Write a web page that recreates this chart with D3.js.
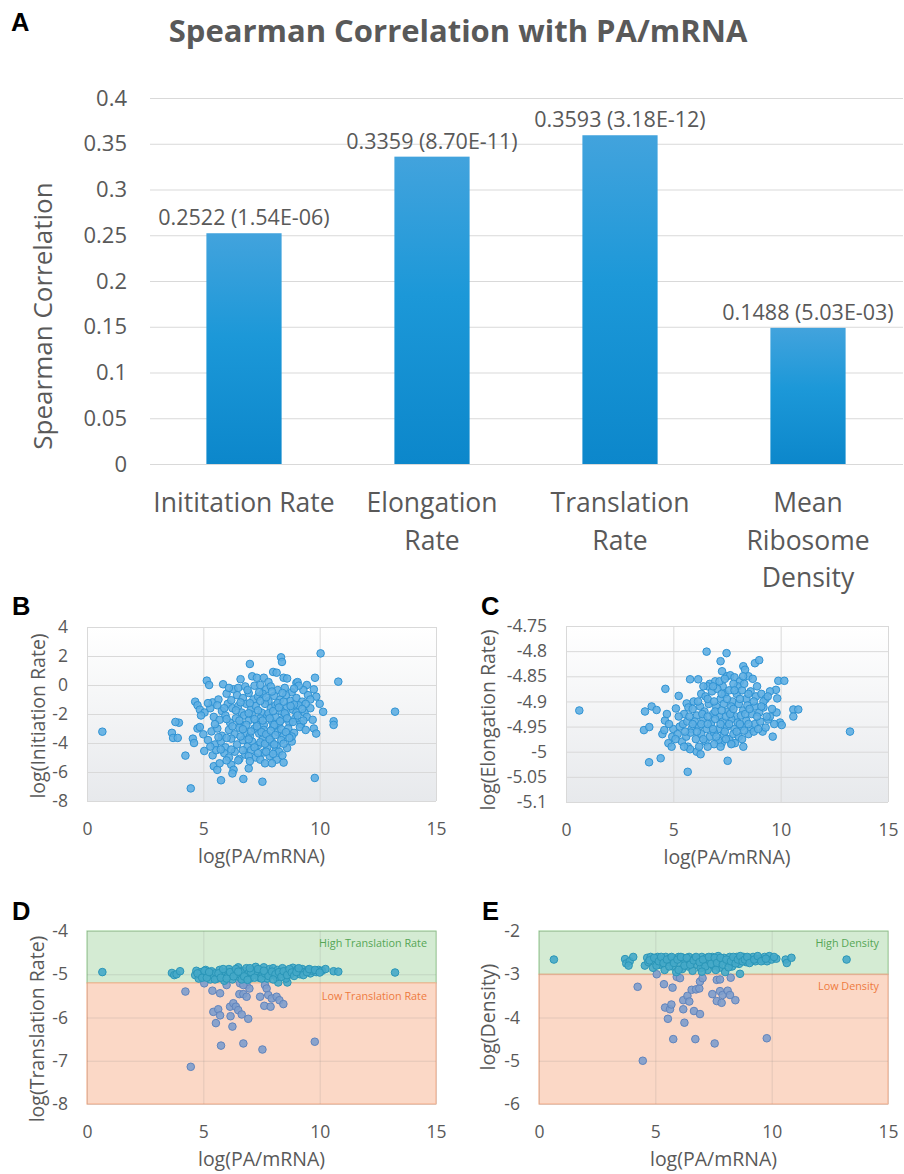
<!DOCTYPE html>
<html>
<head>
<meta charset="utf-8">
<script src="https://cdn.jsdelivr.net/npm/d3@7"></script>
<style>
body { margin: 0; background: #fff; }
text { font-family: "Open Sans", sans-serif; fill: #595959; }
.letter { font-family: "Liberation Sans", Arial, sans-serif; font-weight: bold; fill: #000; font-size: 25.5px; }
</style>
</head>
<body>
<svg id="fig" width="904" height="1174"></svg>
<script>
// ---- panel A data
var categories = [["Inititation Rate"], ["Elongation", "Rate"], ["Translation", "Rate"], ["Mean", "Ribosome", "Density"]];
var correlations = [0.2522, 0.3359, 0.3593, 0.1488];
var pValues = ["1.54E-06", "8.70E-11", "3.18E-12", "5.03E-03"];
var barTicks = [0, 0.05, 0.1, 0.15, 0.2, 0.25, 0.3, 0.35, 0.4];

// ---- shared x ticks of the scatter panels
var xTicks = [0, 5, 10, 15];

// ---- panel B: log(PA/mRNA) vs log(Initiation Rate)
var initiationTicks = [-8, -6, -4, -2, 0, 2, 4];
var initiationPoints = [
  [0.66,-3.22],[13.24,-1.84],[10.04,2.18],[10.8,0.23],[4.46,-7.13],[9.79,-6.41],[5.76,-6.57],[6.72,-6.48],[7.54,-6.67],
  [7.0,1.45],[8.34,1.91],[8.38,1.59],[4.23,-4.87],[5.04,-4.55],
  [6.6,0.4],[7.1,0.6],[7.3,0.5],[7.6,0.5],[7.8,0.2],[8.0,0.9],[8.15,0.85],[8.45,0.5],[8.6,0.45],[9.0,0.15],[9.05,0.2],[9.45,0.0],[9.8,0.5],
  [5.15,0.3],[5.25,0.0],[5.85,0.05],[6.3,-0.3],[6.5,-0.2],[6.8,-0.1],[7.2,-0.05],[7.45,0.0],[7.7,-0.3],[7.9,-0.1],[8.2,-0.35],[8.5,-0.2],
  [8.8,-0.5],[9.3,-0.35],[9.75,-0.3],[9.85,-0.8],[9.1,-0.05],
  [6.0,-0.6],[6.45,-0.7],[6.7,-0.9],[6.95,-0.55],[7.15,-1.0],[7.35,-0.8],[7.55,-0.6],[7.8,-1.1],[8.05,-0.75],[8.3,-1.0],[8.55,-0.7],
  [8.75,-1.1],[9.0,-0.9],[9.25,-1.15],[9.5,-0.7],[10.0,-1.3],[5.4,-1.2],[5.65,-1.0],
  [4.65,-1.15],[4.75,-1.4],[4.85,-1.7],[5.05,-1.9],[5.3,-1.6],[5.6,-1.4],[5.8,-1.8],[6.05,-1.3],[6.25,-1.6],[6.5,-1.45],[6.65,-1.9],
  [6.85,-1.3],[7.05,-1.7],[7.25,-1.45],[7.5,-1.9],[7.65,-1.3],[7.9,-1.6],[8.1,-1.4],[8.35,-1.8],[8.6,-1.5],[8.85,-1.7],[9.1,-1.4],
  [9.35,-1.9],[9.6,-1.6],[10.15,-1.85],[5.2,-1.25],
  [4.9,-2.1],[5.45,-2.2],[5.7,-2.4],[5.95,-2.1],[6.15,-2.6],[6.4,-2.3],[6.6,-2.7],[6.75,-2.1],[6.95,-2.45],[7.1,-2.05],[7.3,-2.6],
  [7.45,-2.3],[7.6,-2.75],[7.75,-2.1],[7.95,-2.5],[8.1,-2.2],[8.25,-2.7],[8.4,-2.35],[8.55,-2.05],[8.7,-2.6],[8.95,-2.3],[9.2,-2.7],
  [9.45,-2.2],[9.7,-2.4],[10.6,-2.5],[10.6,-2.75],[3.95,-2.6],[3.8,-2.55],
  [3.65,-3.3],[3.7,-3.65],[3.9,-3.65],[4.75,-3.0],[4.85,-2.9],[5.0,-3.4],[5.35,-3.2],[5.6,-3.0],[5.8,-3.5],[6.1,-3.1],[6.35,-3.4],
  [6.55,-2.95],[6.8,-3.3],[7.0,-3.55],[7.2,-3.0],[7.4,-3.35],[7.6,-3.1],[7.8,-3.5],[8.0,-2.9],[8.2,-3.25],[8.45,-3.5],[8.65,-3.0],
  [8.9,-3.3],[9.15,-2.9],[9.75,-3.0],[9.85,-3.35],
  [4.55,-3.7],[4.6,-4.0],[5.2,-3.8],[5.5,-4.1],[5.75,-3.9],[5.95,-4.3],[6.2,-3.7],[6.45,-4.1],[6.7,-3.8],[6.9,-4.25],[7.1,-3.9],
  [7.35,-4.15],[7.55,-3.75],[7.75,-4.3],[7.95,-3.95],[8.15,-4.2],[8.35,-3.8],[8.6,-4.35],[8.8,-3.9],
  [5.4,-4.85],[5.55,-4.5],[5.9,-4.7],[6.1,-5.0],[6.35,-4.6],[6.55,-5.1],[6.8,-4.8],[7.05,-4.5],[7.25,-5.0],[7.45,-5.15],[7.6,-4.65],
  [7.85,-4.9],[8.1,-4.55],[8.25,-4.6],[8.15,-5.15],
  [5.45,-5.6],[5.6,-5.85],[5.7,-5.4],[6.2,-5.5],[6.3,-5.85],[6.25,-6.1],[6.5,-5.2],[6.95,-5.75],[7.65,-5.4],[7.95,-5.4],[8.45,-5.35],
  [6.1,-0.2],[6.9,-0.35],[7.4,-0.5],[7.95,-0.45],[8.4,-0.55],[8.9,-0.25],[9.6,-1.0],
  [6.2,-1.05],[6.6,-1.2],[7.0,-1.25],[7.45,-1.1],[7.7,-0.85],[8.2,-1.25],[8.45,-1.15],[8.9,-1.35],[9.4,-1.3],
  [5.9,-1.6],[6.4,-1.75],[6.95,-1.95],[7.35,-1.75],[7.8,-1.95],[8.0,-1.8],[8.25,-1.55],[8.5,-1.95],[8.75,-1.45],[9.0,-1.9],[9.25,-1.65],
  [6.0,-2.35],[6.55,-2.45],[6.85,-2.75],[7.2,-2.35],[7.55,-2.45],[7.85,-2.3],[8.05,-2.75],[8.3,-2.5],[8.6,-2.3],[8.85,-2.55],[9.05,-2.1],
  [9.3,-2.45],[5.5,-2.7],[6.25,-2.85],[6.7,-3.05],[7.05,-3.2],[7.3,-2.85],[7.5,-3.25],[7.7,-3.4],[7.9,-3.15],[8.1,-3.45],[8.35,-3.05],
  [8.55,-3.25],[8.8,-3.55],[9.4,-3.1],
  [5.65,-3.6],[6.0,-3.65],[6.6,-3.55],[6.95,-3.75],[7.2,-4.3],[7.45,-3.95],[7.65,-4.05],[7.85,-3.75],[8.05,-4.1],[8.45,-4.05],[8.7,-3.65],
  [5.75,-4.45],[6.2,-4.45],[6.7,-4.5],[6.95,-4.9],[7.35,-4.7],[7.7,-4.6],[8.0,-4.75],[8.4,-4.85],[5.3,-4.25],[6.0,-5.2],[7.0,-5.25]
];

// ---- panel C: log(PA/mRNA) vs log(Elongation Rate)
var elongationTicks = [-5.1, -5.05, -5, -4.95, -4.9, -4.85, -4.8, -4.75];
var elongationPoints = [
  [0.62,-4.918],[13.23,-4.96],[6.55,-4.801],[7.48,-4.804],[7.2,-4.82],[7.27,-4.84],[8.26,-4.83],[8.34,-4.837],[8.8,-4.824],[9.0,-4.818],
  [5.78,-4.856],[6.16,-4.856],[9.89,-4.859],[10.17,-4.859],[4.63,-4.875],[5.25,-4.889],[3.68,-4.92],[3.99,-4.91],[4.22,-4.917],
  [3.63,-4.957],[3.88,-4.951],[4.49,-4.965],[4.58,-4.957],[4.61,-4.938],[5.12,-4.914],[5.62,-4.904],[5.7,-4.912],[4.77,-4.983],
  [4.92,-4.99],[5.68,-4.99],[5.78,-4.995],[6.09,-5.0],[6.27,-5.005],[3.87,-5.021],[4.41,-5.013],[5.67,-5.04],[7.53,-5.018],
  [8.26,-4.99],[9.63,-4.97],[9.16,-4.96],[10.59,-4.916],[10.82,-4.916],[10.59,-4.93],[9.78,-4.877],[9.84,-4.894],[9.81,-4.922],
  [9.97,-4.942],[10.05,-4.947],[9.42,-4.936],[9.5,-4.93],[7.25,-4.983],[7.72,-4.983],[7.87,-4.983],
  [6.7,-4.865],[6.95,-4.86],[7.5,-4.85],[7.65,-4.848],[7.85,-4.852],[8.1,-4.86],[8.5,-4.85],[8.7,-4.855],[6.6,-4.87],[7.3,-4.87],[8.0,-4.87],
  [6.3,-4.885],[6.5,-4.89],[6.8,-4.88],[7.05,-4.875],[7.2,-4.895],[7.4,-4.885],[7.6,-4.878],[7.75,-4.9],[7.95,-4.885],[8.2,-4.878],
  [8.4,-4.895],[8.6,-4.88],[8.85,-4.89],[9.1,-4.885],[9.3,-4.895],[9.5,-4.88],[5.95,-4.9],
  [5.5,-4.925],[5.9,-4.915],[6.1,-4.928],[6.25,-4.91],[6.45,-4.92],[6.65,-4.905],[6.85,-4.925],[7.0,-4.91],[7.15,-4.93],[7.35,-4.905],
  [7.55,-4.92],[7.7,-4.91],[7.9,-4.93],[8.05,-4.905],[8.25,-4.918],[8.45,-4.908],[8.65,-4.925],[8.8,-4.91],[9.0,-4.922],[9.2,-4.912],
  [9.35,-4.93],[9.6,-4.915],
  [5.0,-4.955],[5.3,-4.95],[5.45,-4.945],[5.65,-4.94],[5.85,-4.955],[6.0,-4.94],[6.2,-4.95],[6.4,-4.935],[6.55,-4.955],[6.75,-4.945],
  [6.95,-4.935],[7.1,-4.955],[7.3,-4.94],[7.5,-4.95],[7.7,-4.935],[7.85,-4.955],[8.0,-4.942],[8.2,-4.95],[8.4,-4.938],[8.6,-4.955],
  [8.8,-4.945],[9.05,-4.94],[9.3,-4.952],[9.7,-4.945],
  [4.95,-4.97],[5.2,-4.965],[5.4,-4.98],[5.6,-4.97],[5.8,-4.962],[6.05,-4.975],[6.3,-4.965],[6.5,-4.98],[6.7,-4.97],[6.9,-4.962],
  [7.1,-4.978],[7.35,-4.965],[7.6,-4.975],[7.8,-4.965],[8.05,-4.97],[8.5,-4.965],[8.75,-4.96],[6.2,-4.99],[6.9,-4.985],
  [6.4,-4.87],[6.85,-4.87],[7.15,-4.86],[7.8,-4.865],[8.3,-4.865],[8.9,-4.87],[7.4,-4.855],[8.25,-4.85],
  [6.15,-4.9],[6.6,-4.895],[6.9,-4.9],[7.25,-4.885],[7.5,-4.895],[7.85,-4.878],[8.1,-4.895],[8.5,-4.885],[8.75,-4.9],[9.2,-4.9],[9.4,-4.89],
  [5.75,-4.93],[6.35,-4.925],[6.6,-4.93],[6.95,-4.92],[7.25,-4.918],[7.45,-4.93],[7.65,-4.925],[7.8,-4.915],[8.15,-4.928],[8.35,-4.925],
  [8.55,-4.915],[8.9,-4.93],[9.1,-4.91],
  [5.55,-4.96],[5.9,-4.945],[6.1,-4.96],[6.3,-4.945],[6.6,-4.945],[6.85,-4.955],[7.2,-4.945],[7.4,-4.96],[7.6,-4.945],[7.95,-4.96],
  [8.1,-4.945],[8.3,-4.958],[8.5,-4.945],[8.95,-4.955],
  [5.1,-4.975],[5.5,-4.99],[6.4,-4.975],[6.6,-4.99],[7.0,-4.97],[7.2,-4.99],[7.45,-4.975],[7.7,-4.985],[8.2,-4.975],[5.25,-4.93],
  [4.8,-4.945],[4.7,-4.925]
];

// ---- panel D: log(PA/mRNA) vs log(Translation Rate)
var translationTicks = [-8, -7, -6, -5, -4];
var translationSplit = -5.2;
var translationBandNames = ["High Translation Rate", "Low Translation Rate"];
var translationPoints = [
  [0.66,-4.95],[13.24,-4.96],[4.23,-5.4],[5.04,-5.21],[5.39,-5.38],[5.72,-5.44],[5.43,-5.87],[5.64,-5.81],[5.72,-5.95],[5.54,-6.13],
  [5.76,-6.65],[6.15,-5.75],[6.29,-5.67],[6.4,-5.75],[6.5,-5.83],[6.17,-5.97],[6.25,-6.21],[6.65,-5.93],[6.55,-5.46],[6.72,-5.46],
  [6.86,-5.52],[6.93,-6.03],[6.72,-6.6],[6.86,-5.25],[6.98,-5.33],[7.54,-6.74],[7.44,-5.52],[7.65,-5.25],[7.72,-5.33],[7.62,-5.73],
  [7.89,-5.75],[7.79,-5.48],[7.94,-5.56],[8.15,-5.52],[8.27,-5.6],[8.44,-5.69],[8.22,-5.19],[8.61,-5.19],[9.79,-6.56],[4.46,-7.14],
  [6.58,-5.21],[6.72,-5.25],[6.0,-5.25],
  [3.65,-4.97],[3.75,-5.02],[3.85,-5.0],[4.0,-4.93],[4.65,-5.02],[4.7,-4.92],[4.8,-5.1],[4.9,-4.95],[5.0,-5.05],[5.1,-4.9],[5.2,-5.0],
  [5.3,-5.12],[5.35,-4.93],[5.45,-5.03],[5.55,-4.97],[5.6,-5.1],[5.7,-4.9],[5.8,-5.02],[5.9,-5.15],[5.95,-4.95],[6.05,-5.05],[6.1,-4.88],
  [6.2,-5.0],[6.25,-5.12],[6.35,-4.93],[6.45,-5.05],[6.5,-4.84],[6.55,-5.0],[6.65,-5.12],[6.7,-4.92],[6.8,-5.03],[6.85,-4.86],
  [6.95,-4.97],[7.0,-5.1],[7.1,-4.9],[7.15,-5.02],[7.25,-4.83],[7.3,-4.97],[7.4,-5.08],[7.45,-4.9],[7.55,-5.0],[7.6,-4.84],[7.7,-4.95],
  [7.75,-5.1],[7.85,-4.88],[7.9,-5.02],[8.0,-4.86],[8.05,-4.97],[8.15,-5.07],[8.2,-4.9],[8.3,-5.0],[8.4,-4.86],[8.5,-4.95],[8.55,-5.1],
  [8.65,-4.92],[8.75,-5.0],[8.85,-4.85],[8.95,-4.93],[9.05,-4.88],[9.15,-5.0],[9.25,-4.88],[9.35,-4.95],[9.5,-4.9],[9.6,-4.98],
  [9.7,-4.92],[9.85,-4.95],[9.95,-4.9],[10.1,-4.92],[10.25,-4.88],[10.6,-4.93],[10.8,-4.94],
  [4.75,-4.98],[4.95,-5.08],[5.05,-4.92],[5.15,-5.08],[5.25,-4.95],[5.5,-5.12],[5.65,-4.98],[5.75,-5.08],[5.85,-4.88],[6.0,-5.1],
  [6.15,-4.95],[6.3,-5.05],[6.4,-4.88],[6.6,-4.95],[6.75,-5.05],[6.9,-5.13],[7.05,-4.95],[7.2,-5.08],[7.35,-4.88],[7.5,-5.1],
  [7.65,-4.98],[7.8,-5.04],[7.95,-4.94],[8.1,-5.0],[8.25,-4.95],[8.35,-5.06],[8.45,-4.93],[8.6,-5.02],[8.7,-4.88],[8.8,-4.96],
  [8.9,-5.04],[9.0,-4.95],[9.1,-4.86],[9.3,-5.02],[9.45,-4.95],[9.55,-4.88],[9.8,-4.9],[10.0,-4.96],[6.5,-4.94],[7.0,-4.86],
  [7.6,-4.92],[8.0,-5.12]
];

// ---- panel E: log(PA/mRNA) vs log(Density)
var densityTicks = [-6, -5, -4, -3, -2];
var densitySplit = -3;
var densityBandNames = ["High Density", "Low Density"];
var densityPoints = [
  [0.64,-2.66],[13.22,-2.66],[4.24,-3.29],[5.06,-3.0],[5.37,-3.23],[5.74,-3.31],[5.42,-3.77],[5.63,-3.81],[5.69,-3.7],[5.54,-4.03],
  [5.77,-4.5],[6.2,-3.6],[6.38,-3.5],[6.46,-3.63],[6.2,-3.81],[6.25,-4.12],[6.66,-3.85],[6.92,-3.92],[6.56,-3.36],[6.75,-3.35],
  [6.89,-3.33],[6.72,-4.5],[6.92,-3.17],[7.03,-3.09],[7.55,-4.6],[7.45,-3.46],[7.64,-3.13],[7.78,-3.12],[7.64,-3.62],[7.85,-3.66],
  [7.78,-3.39],[7.89,-3.48],[8.11,-3.38],[8.21,-3.48],[8.44,-3.6],[8.24,-3.08],[8.64,-2.99],[9.79,-4.48],[4.46,-5.0],[5.92,-3.06],[6.06,-3.09],
  [3.7,-2.65],[3.75,-2.75],[3.9,-2.7],[3.85,-2.8],[4.05,-2.6],[4.55,-2.8],[4.65,-2.62],[4.7,-2.72],[4.8,-2.6],[4.9,-2.85],[5.0,-2.68],
  [5.1,-2.6],[5.2,-2.78],[5.3,-2.65],[5.4,-2.9],[5.45,-2.6],[5.55,-2.72],[5.65,-2.62],[5.75,-2.82],[5.85,-2.68],[5.9,-2.95],[6.0,-2.6],
  [6.05,-2.75],[6.15,-2.88],[6.2,-2.62],[6.3,-2.7],[6.4,-2.82],[6.45,-2.6],[6.55,-2.72],[6.6,-2.92],[6.7,-2.62],[6.8,-2.78],[6.85,-2.66],
  [6.95,-2.86],[7.0,-2.6],[7.1,-2.72],[7.2,-2.62],[7.25,-2.9],[7.35,-2.68],[7.45,-2.6],[7.5,-2.8],[7.6,-2.66],[7.7,-2.58],[7.75,-2.85],
  [7.85,-2.7],[7.95,-2.62],[8.0,-2.95],[8.1,-2.74],[8.2,-2.6],[8.3,-2.82],[8.4,-2.66],[8.5,-2.6],[8.6,-2.76],[8.7,-2.64],[8.8,-2.6],
  [8.9,-2.72],[9.0,-2.62],[9.1,-2.68],[9.2,-2.6],[9.3,-2.7],[9.45,-2.64],[9.6,-2.66],[9.7,-2.6],[9.8,-2.7],[9.9,-2.58],[10.0,-2.66],
  [10.2,-2.64],[10.6,-2.66],[10.65,-2.74],[10.85,-2.62],
  [4.75,-2.68],[4.95,-2.62],[5.05,-2.8],[5.15,-2.7],[5.25,-2.6],[5.35,-2.74],[5.5,-2.66],[5.6,-2.82],[5.7,-2.6],[5.8,-2.74],[5.95,-2.66],
  [6.1,-2.6],[6.25,-2.8],[6.35,-2.62],[6.5,-2.78],[6.65,-2.68],[6.75,-2.6],[6.9,-2.72],[7.05,-2.66],[7.15,-2.82],[7.3,-2.6],[7.4,-2.76],
  [7.55,-2.62],[7.65,-2.74],[7.8,-2.62],[7.9,-2.78],[8.05,-2.66],[8.15,-2.84],[8.25,-2.7],[8.35,-2.6],[8.45,-2.75],[8.55,-2.66],
  [8.65,-2.58],[8.75,-2.7],[8.85,-2.66],[8.95,-2.6],[9.05,-2.74],[9.25,-2.66],[9.4,-2.58],[9.55,-2.7],[9.75,-2.64],[10.1,-2.6],
  [6.0,-2.9],[7.0,-2.94],[7.6,-2.9]
];

var svg = d3.select("#fig");
var defs = svg.append("defs");

var barGrad = defs.append("linearGradient").attr("id", "barGrad").attr("x1", 0).attr("y1", 0).attr("x2", 0).attr("y2", 1);
barGrad.append("stop").attr("offset", "0%").attr("stop-color", "#42a3dd");
barGrad.append("stop").attr("offset", "45%").attr("stop-color", "#1c98d8");
barGrad.append("stop").attr("offset", "100%").attr("stop-color", "#0c87cb");

var plotGrad = defs.append("linearGradient").attr("id", "plotGrad").attr("x1", 0).attr("y1", 0).attr("x2", 0).attr("y2", 1);
plotGrad.append("stop").attr("offset", "0%").attr("stop-color", "#ffffff");
plotGrad.append("stop").attr("offset", "100%").attr("stop-color", "#e7e9ec");

// ================= panel A
svg.append("text").attr("class", "letter").attr("x", 11).attr("y", 31).text("A");
svg.append("text")
  .attr("x", 458).attr("y", 42)
  .attr("text-anchor", "middle")
  .style("font-size", "31px").style("font-weight", "bold")
  .text("Spearman Correlation with PA/mRNA");

var bx = d3.scaleBand().domain(d3.range(categories.length)).range([150, 902]).paddingInner(0.6).paddingOuter(0.3);
var by = d3.scaleLinear().domain([0, 0.4]).range([464, 98]);

var barAxis = svg.append("g")
  .attr("transform", "translate(150,0)")
  .call(d3.axisLeft(by).tickValues(barTicks).tickFormat(function(d) { return String(d); }).tickSize(-753).tickPadding(23));
barAxis.select(".domain").remove();
barAxis.selectAll("line").attr("stroke", "#d9d9d9");
barAxis.selectAll("text").style("font-size", "22px").attr("fill", "#595959");

svg.append("g").selectAll("rect")
  .data(correlations)
  .enter().append("rect")
  .attr("x", function(d, i) { return bx(i); })
  .attr("y", function(d) { return by(d); })
  .attr("width", bx.bandwidth())
  .attr("height", function(d) { return by(0) - by(d); })
  .attr("fill", "url(#barGrad)");

svg.append("g").selectAll("text")
  .data(correlations)
  .enter().append("text")
  .attr("x", function(d, i) { return bx(i) + bx.bandwidth() / 2; })
  .attr("y", function(d) { return by(d) - 8; })
  .attr("text-anchor", "middle")
  .style("font-size", "21.5px")
  .text(function(d, i) { return d.toFixed(4) + " (" + pValues[i] + ")"; });

var catLabels = svg.append("g").selectAll("text")
  .data(categories)
  .enter().append("text")
  .attr("text-anchor", "middle")
  .attr("transform", function(d, i) { return "translate(" + (bx(i) + bx.bandwidth() / 2) + ",512)"; })
  .style("font-size", "26.5px");
catLabels.selectAll("tspan")
  .data(function(d) { return d; })
  .enter().append("tspan")
  .attr("x", 0)
  .attr("y", function(d, j) { return j * 37.5; })
  .text(function(d) { return d; });

svg.append("text")
  .attr("transform", "translate(52,316) rotate(-90)")
  .attr("text-anchor", "middle")
  .style("font-size", "26px")
  .text("Spearman Correlation");

// ================= scatter panels
function drawScatter(cfg) {
  var g = svg.append("g");
  var x = d3.scaleLinear().domain([0, 15]).range([cfg.left, cfg.right]);
  var y = d3.scaleLinear().domain(d3.extent(cfg.yTicks)).range([cfg.bottom, cfg.top]);
  var w = cfg.right - cfg.left, h = cfg.bottom - cfg.top;

  if (cfg.split === undefined) {
    g.append("rect").attr("x", cfg.left).attr("y", cfg.top).attr("width", w).attr("height", h).attr("fill", "url(#plotGrad)");
  } else {
    var ymax = d3.max(cfg.yTicks), ymin = d3.min(cfg.yTicks);
    g.append("rect").attr("x", cfg.left).attr("y", y(ymax)).attr("width", w).attr("height", y(cfg.split) - y(ymax))
      .attr("fill", "#d4ebd3").attr("stroke", "#a3d5a0").attr("stroke-width", 1.2);
    g.append("rect").attr("x", cfg.left).attr("y", y(cfg.split)).attr("width", w).attr("height", y(ymin) - y(cfg.split))
      .attr("fill", "#fbd8c6").attr("stroke", "#f6b391").attr("stroke-width", 1.2);
  }

  var gridColor = cfg.split === undefined ? "#d9d9d9" : "rgba(120,120,120,0.18)";
  var ya = g.append("g").attr("transform", "translate(" + cfg.left + ",0)")
    .call(d3.axisLeft(y).tickValues(cfg.yTicks).tickFormat(function(d) { return String(d); }).tickSize(-w).tickPadding(19));
  ya.select(".domain").remove();
  ya.selectAll("line").attr("stroke", gridColor);
  ya.selectAll("text").style("font-size", "17.5px").attr("fill", "#595959");

  var xa = g.append("g").attr("transform", "translate(0," + cfg.bottom + ")")
    .call(d3.axisBottom(x).tickValues(xTicks).tickFormat(function(d) { return String(d); }).tickSize(-h).tickPadding(22));
  xa.select(".domain").remove();
  xa.selectAll("line").attr("stroke", gridColor);
  xa.selectAll("text").style("font-size", "17.5px").attr("fill", "#595959");

  g.append("g").selectAll("circle")
    .data(cfg.points)
    .enter().append("circle")
    .attr("cx", function(d) { return x(d[0]); })
    .attr("cy", function(d) { return y(d[1]); })
    .attr("r", 3.8)
    .attr("fill", function(d) {
      if (cfg.split === undefined) return "#5eaee2";
      return d[1] > cfg.split ? "#45a9c8" : "#7d9dcc";
    })
    .attr("stroke", function(d) {
      if (cfg.split === undefined) return "#2f93d4";
      return d[1] > cfg.split ? "#2a96b8" : "#6084bd";
    })
    .attr("stroke-width", 1)
    .attr("fill-opacity", 0.9);

  if (cfg.split !== undefined) {
    g.append("text").attr("x", cfg.right - 9).attr("y", (y(d3.max(cfg.yTicks)) + 16))
      .attr("text-anchor", "end").style("font-size", "10.8px").style("fill", "#55a655")
      .text(cfg.bandNames[0]);
    g.append("text").attr("x", cfg.right - 9).attr("y", y(cfg.split) + cfg.lowOffset)
      .attr("text-anchor", "end").style("font-size", "10.8px").style("fill", "#ee7a3e")
      .text(cfg.bandNames[1]);
  }

  g.append("text")
    .attr("x", (cfg.left + cfg.right) / 2).attr("y", cfg.bottom + 62)
    .attr("text-anchor", "middle").style("font-size", "19.5px")
    .text("log(PA/mRNA)");
  g.append("text")
    .attr("transform", "translate(" + cfg.ylabX + "," + cfg.ylabY + ") rotate(-90)")
    .attr("text-anchor", "middle").style("font-size", "19.5px")
    .text(cfg.yLabel);
  svg.append("text").attr("class", "letter").attr("x", cfg.letterX).attr("y", cfg.letterY).text(cfg.letter);
}

drawScatter({ letter: "B", letterX: 12, letterY: 615, left: 87, right: 436, top: 627, bottom: 801,
  yTicks: initiationTicks, points: initiationPoints, yLabel: "log(Initiation Rate)", ylabX: 45, ylabY: 716 });
drawScatter({ letter: "C", letterX: 481, letterY: 615, left: 566, right: 888, top: 626, bottom: 802,
  yTicks: elongationTicks, points: elongationPoints, yLabel: "log(Elongation Rate)", ylabX: 495, ylabY: 720 });
drawScatter({ letter: "D", letterX: 12, letterY: 920, left: 87, right: 436, top: 931, bottom: 1104,
  yTicks: translationTicks, points: translationPoints, yLabel: "log(Translation Rate)", ylabX: 44, ylabY: 1029,
  split: translationSplit, bandNames: translationBandNames, lowOffset: 17 });
drawScatter({ letter: "E", letterX: 482, letterY: 920, left: 539, right: 888, top: 931, bottom: 1104,
  yTicks: densityTicks, points: densityPoints, yLabel: "log(Density)", ylabX: 495, ylabY: 1017,
  split: densitySplit, bandNames: densityBandNames, lowOffset: 16 });
</script>
</body>
</html>
